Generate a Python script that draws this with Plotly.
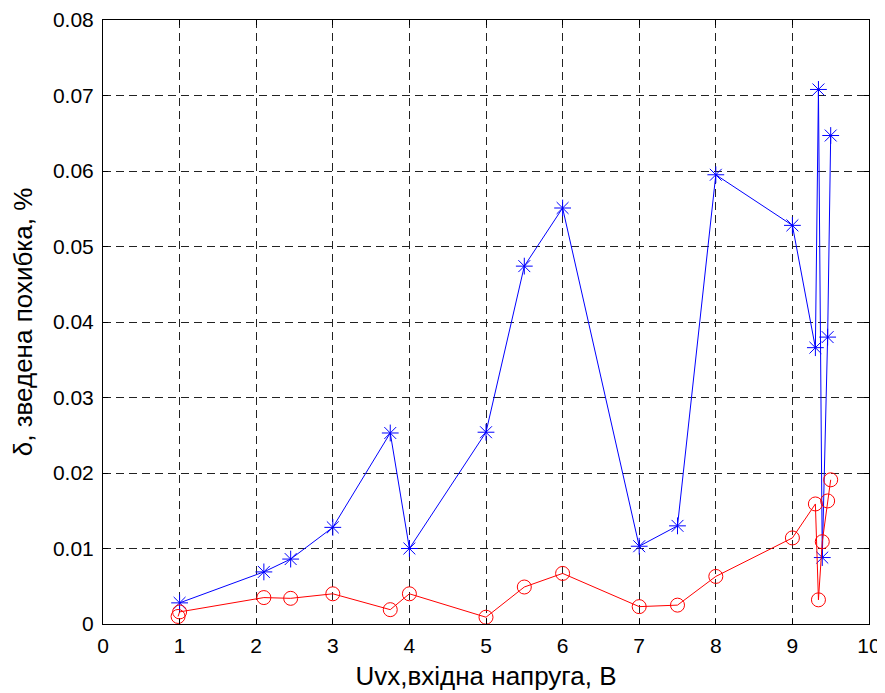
import plotly.graph_objects as go

x_blue = [1, 2.1, 2.45, 3, 3.75, 4, 5, 5.5, 6, 7, 7.5, 8, 9, 9.3, 9.34, 9.39, 9.46, 9.5]
y_blue = [0.0028, 0.0069, 0.0086, 0.0128, 0.0253, 0.0100, 0.0254, 0.0474, 0.0551, 0.0103,
          0.0130, 0.0595, 0.0528, 0.0366, 0.0708, 0.0088, 0.0380, 0.0647]

x_red = [0.98, 1, 2.1, 2.45, 3, 3.75, 4, 5, 5.5, 6, 7, 7.5, 8, 9, 9.3, 9.34, 9.39, 9.46, 9.5]
y_red = [0.0010, 0.0016, 0.0035, 0.0034, 0.0040, 0.0019, 0.0040, 0.0009, 0.0049, 0.0067,
         0.0023, 0.0025, 0.0063, 0.0114, 0.0159, 0.0032, 0.0109, 0.0163, 0.0191]

x_ticks = [0, 1, 2, 3, 4, 5, 6, 7, 8, 9, 10]
y_ticks = [0, 0.01, 0.02, 0.03, 0.04, 0.05, 0.06, 0.07, 0.08]
y_tick_labels = ["0", "0.01", "0.02", "0.03", "0.04", "0.05", "0.06", "0.07", "0.08"]

x_title = "Uvx,вхідна напруга, В"
y_title = "δ, зведена похибка, %"

fig = go.Figure()
fig.add_trace(go.Scatter(
    x=x_blue, y=y_blue, mode="lines+markers",
    line=dict(color="#0000FF", width=1),
    marker=dict(symbol="asterisk-open", size=14, color="#0000FF",
                line=dict(color="#0000FF", width=1)),
    showlegend=False,
))
fig.add_trace(go.Scatter(
    x=x_red, y=y_red, mode="lines+markers",
    line=dict(color="#FF0000", width=1),
    marker=dict(symbol="circle-open", size=14, color="#FF0000",
                line=dict(color="#FF0000", width=1)),
    showlegend=False,
))

font_family = "Liberation Sans, Arial, sans-serif"
axis_common = dict(
    showline=True, linecolor="black", linewidth=1, mirror="ticks",
    ticks="inside", ticklen=5, tickcolor="black",
    showgrid=True, gridcolor="#222", gridwidth=1, griddash="8px,5px",
    zeroline=False, automargin=False,
    tickfont=dict(family=font_family, size=21, color="black"),
)

fig.update_layout(
    width=885, height=693,
    margin=dict(l=95, r=24, t=12, b=77),
    paper_bgcolor="white", plot_bgcolor="white",
    font=dict(family=font_family, color="black"),
    xaxis=dict(range=[0, 10], tickvals=x_ticks, ticktext=[str(v) for v in x_ticks],
               ticklabelstandoff=3,
               title=dict(text=x_title, font=dict(size=26), standoff=10),
               **axis_common),
    yaxis=dict(range=[0, 0.08], tickvals=y_ticks, ticktext=y_tick_labels,
               ticklabelstandoff=4,
               title=dict(text=y_title, font=dict(size=26), standoff=15),
               **axis_common),
)

fig.write_html("out.html")
